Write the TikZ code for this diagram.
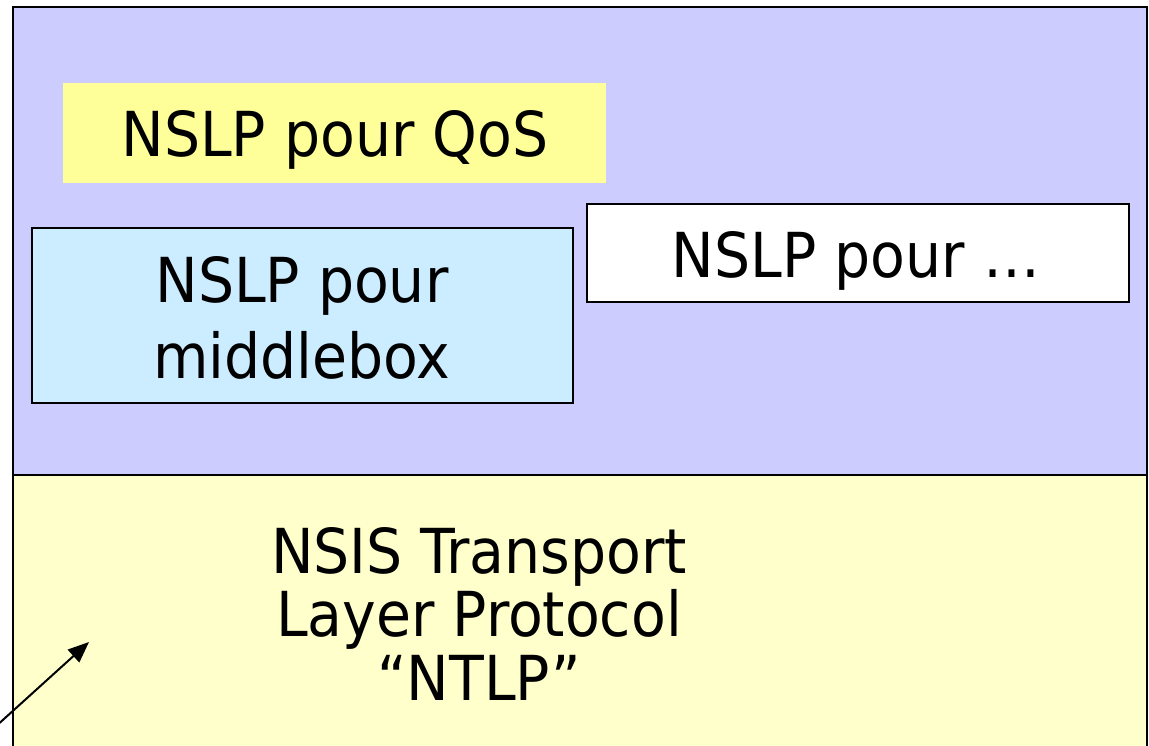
\documentclass[tikz,border=0pt]{standalone}
\usepackage{fontspec}
\setmainfont{DejaVu Sans Condensed}[FakeStretch=1.02]
\usetikzlibrary{arrows.meta}
\definecolor{nslpbg}{HTML}{CCCCFF}
\definecolor{ntlpbg}{HTML}{FFFFCC}
\definecolor{qosbg}{HTML}{FFFF99}
\definecolor{mbbg}{HTML}{CCECFF}
\tikzset{
  layer/.style={draw=black, line width=2.5pt, inner sep=0pt, outer sep=0pt, anchor=north west},
  box/.style={line width=2.2pt, inner sep=0pt, outer sep=0pt, anchor=north west},
  txt/.style={font=\fontsize{62}{62}\selectfont, inner sep=0pt, anchor=base},
  pointer/.style={-{Triangle[length=21pt,width=17pt]}, line width=2pt}
}
\begin{document}
\begin{tikzpicture}[x=1pt,y=-1pt]
\useasboundingbox (0,0) rectangle (1149,746);
% layers
\node[layer, fill=nslpbg, minimum width=1134pt, minimum height=468pt] (nslp) at (13,7) {};
\node[layer, fill=ntlpbg, minimum width=1134pt, minimum height=300pt] (ntlp) at (13,475) {};
% boxes
\node[box, fill=qosbg, minimum width=543pt, minimum height=100pt] (qos) at (63,83) {};
\node[box, draw=black, fill=mbbg, minimum width=541pt, minimum height=175pt] (mb) at (32,228) {};
\node[box, draw=black, fill=white, minimum width=542pt, minimum height=98pt] (other) at (587,204) {};
% texts
\node[txt] (qosT) at (335,157) {NSLP pour QoS};
\node[txt] (mbT1) at (302,302) {NSLP pour};
\node[txt] (mbT2) at (302,378) {middlebox};
\node[txt] (otherT) at (856,278) {NSLP pour …};
\node[txt] (ntlpT1) at (479,573) {NSIS Transport};
\node[txt] (ntlpT2) at (479,636) {Layer Protocol};
\node[txt] (ntlpT3) at (479,700) {“NTLP”};
% arrow
\coordinate (arrS) at (-6,728);
\coordinate (arrE) at (89,642);
\draw[pointer] (arrS) -- (arrE);
\end{tikzpicture}
\end{document}
